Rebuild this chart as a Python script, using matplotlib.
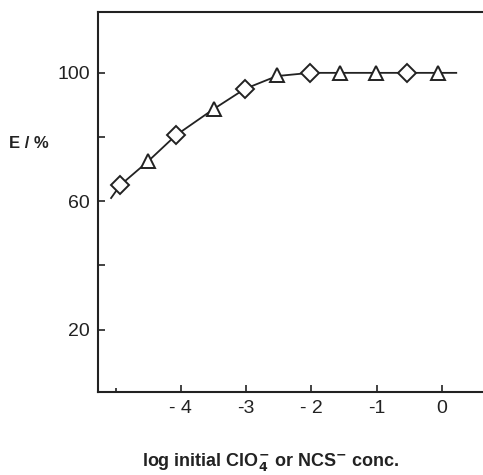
import numpy as np
import matplotlib.pyplot as plt

# data
clo4_x = [-4.93, -4.08, -3.02, -2.02, -0.54]
clo4_y = [65.0, 80.5, 95.0, 100.0, 100.0]
ncs_x = [-4.5, -3.5, -2.53, -1.56, -1.01, -0.06]
ncs_y = [72.5, 88.7, 99.3, 100.0, 100.0, 100.0]

# fitted curve (hand drawn in the original)
curve_x = [-5.07, -4.93, -4.5, -4.08, -3.5, -3.02, -2.53, -2.02, -1.5, -1.0, -0.5, 0.22]
curve_y = [61.0, 65.0, 72.5, 80.5, 88.7, 95.0, 99.0, 100.0, 100.0, 100.0, 100.0, 100.0]

ytick_vals = [20, 40, 60, 80, 100]
ytick_labels = ['20', '', '60', '', '100']
xtick_vals = [-5, -4, -3, -2, -1, 0]
xtick_labels = ['', '- 4', '-3', '- 2', '-1', '0']

ink = '#222222'
plt.rcParams['font.family'] = ['Liberation Sans', 'DejaVu Sans']
plt.rcParams['mathtext.default'] = 'bf'

fig = plt.figure(figsize=(4.83, 4.75), dpi=100)
ax = fig.add_axes([0.203, 0.175, 0.797, 0.800])

ax.plot(curve_x, curve_y, color=ink, lw=1.3, zorder=2)
ax.plot(clo4_x, clo4_y, ls='none', marker='D', ms=9.5, mfc='white',
        mec=ink, mew=1.4, zorder=3)
ax.plot(ncs_x, ncs_y, ls='none', marker='^', ms=9.5, mfc='white',
        mec=ink, mew=1.4, zorder=3)

ax.set_xlim(-5.27, 0.63)
ax.set_ylim(0.6, 119)

ax.set_yticks(ytick_vals)
ax.set_yticklabels(ytick_labels)
ax.set_xticks(xtick_vals)
ax.set_xticklabels(xtick_labels)
ax.tick_params(direction='in', length=5, width=1.2, color=ink,
               labelsize=14, labelcolor=ink, pad=6)
ax.xaxis.get_major_ticks()[0].tick1line.set_markersize(3)

ax.spines['right'].set_visible(False)
for s in ['left', 'top', 'bottom']:
    ax.spines[s].set_linewidth(1.5)
    ax.spines[s].set_color(ink)

fig.text(0.06, 0.698, 'E / %', fontsize=12, fontweight='bold',
         color=ink, ha='center', va='center')
fig.text(0.56, 0.027, r'log initial ClO$_4^{-}$ or NCS$^{-}$ conc.',
         fontsize=13, fontweight='bold', color=ink, ha='center', va='center')

fig.savefig('out.png', dpi=100)
